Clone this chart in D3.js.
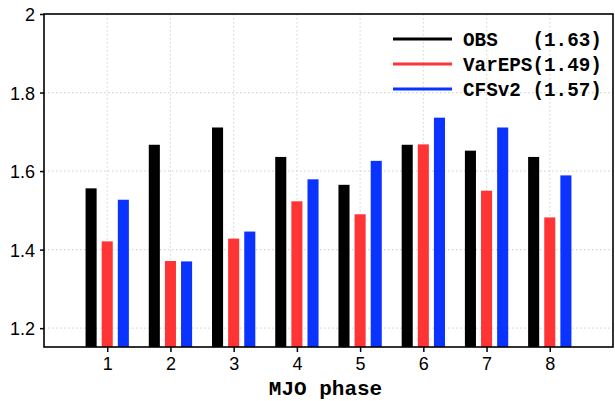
<!DOCTYPE html>
<html>
<head>
<meta charset="utf-8">
<script src="https://cdn.jsdelivr.net/npm/d3@7"></script>
<style>
  body { margin: 0; background: #fff; }
  svg { display: block; }
</style>
</head>
<body>
<svg id="chart" width="615" height="401"></svg>
<script>
// MJO phase vs. value, three sources
const phases = [1, 2, 3, 4, 5, 6, 7, 8];
const obs    = [1.556, 1.667, 1.711, 1.636, 1.565, 1.667, 1.652, 1.636];
const varEPS = [1.421, 1.371, 1.428, 1.523, 1.490, 1.668, 1.550, 1.482];
const cfsv2  = [1.527, 1.370, 1.446, 1.579, 1.626, 1.736, 1.711, 1.589];
const seriesNames = ["OBS   (1.63)", "VarEPS(1.49)", "CFSv2 (1.57)"];
const seriesColors = ["#000000", "#ff3535", "#0a33ff"];
const yTicks = [1.2, 1.4, 1.6, 1.8, 2];

const series = [obs, varEPS, cfsv2];
const margin = {top: 14, right: 2, bottom: 54, left: 44};
const svg = d3.select("#chart");
const width = +svg.attr("width") - margin.left - margin.right;
const height = +svg.attr("height") - margin.top - margin.bottom;
const mono = "'Liberation Mono', 'Courier New', monospace";

const g = svg.append("g")
  .attr("transform", "translate(" + margin.left + "," + margin.top + ")");

const x = d3.scaleLinear().domain([0, 9]).range([0, width]);
const y = d3.scaleLinear().domain([1.152, 2]).range([height, 0]);

// dotted grid
g.append("g").selectAll("line.hgrid")
  .data(yTicks.filter(d => d < 2))
  .enter().append("line")
  .attr("x1", 0).attr("x2", width)
  .attr("y1", d => y(d)).attr("y2", d => y(d))
  .attr("stroke", "#d8d8d8").attr("stroke-width", 1.2)
  .attr("stroke-dasharray", "1.5,2.5");

g.append("g").selectAll("line.vgrid")
  .data(phases)
  .enter().append("line")
  .attr("x1", d => x(d)).attr("x2", d => x(d))
  .attr("y1", 0).attr("y2", height)
  .attr("stroke", "#d8d8d8").attr("stroke-width", 1.2)
  .attr("stroke-dasharray", "1.5,2.5");

// bars
const offset = 0.255, barW = 0.175;
series.forEach((vals, si) => {
  g.append("g").selectAll("rect")
    .data(vals)
    .enter().append("rect")
    .attr("x", (d, i) => x(phases[i] + (si - 1) * offset - barW / 2))
    .attr("width", x(barW) - x(0))
    .attr("y", d => y(d))
    .attr("height", d => height - y(d))
    .attr("fill", seriesColors[si]);
});

// axes
const yAxis = d3.axisLeft(y).tickValues(yTicks).tickSize(4)
  .tickFormat(d => d === 2 ? "2" : d3.format(".1f")(d));
const yg = g.append("g").call(yAxis);
yg.select(".domain").remove();
yg.selectAll("line").attr("stroke", "#000").attr("stroke-width", 1.5);
yg.selectAll("text")
  .attr("x", -9).attr("dy", "0.36em")
  .style("font-family", "'Liberation Sans', Arial, sans-serif")
  .style("font-size", "18px").attr("fill", "#000");

const xAxis = d3.axisBottom(x).tickValues(phases).tickSize(5).tickFormat(d3.format("d"));
const xg = g.append("g").attr("transform", "translate(0," + height + ")").call(xAxis);
xg.select(".domain").remove();
xg.selectAll("line").attr("stroke", "#000").attr("stroke-width", 1.5);
xg.selectAll("text")
  .attr("y", 10).attr("dy", "0.71em")
  .style("font-family", "'Liberation Sans', Arial, sans-serif")
  .style("font-size", "18px").attr("fill", "#000");

// frame
g.append("rect")
  .attr("width", width).attr("height", height)
  .attr("fill", "none").attr("stroke", "#000").attr("stroke-width", 1.6);

// x title
svg.append("text")
  .attr("x", 325.5).attr("y", 395)
  .attr("text-anchor", "middle")
  .style("font-family", mono)
  .style("font-weight", "bold").style("font-size", "21px")
  .style("white-space", "pre")
  .text("MJO phase");

// legend
const legend = svg.append("g").attr("transform", "translate(393,39)");
const items = legend.selectAll("g").data(seriesNames).enter().append("g")
  .attr("transform", (d, i) => "translate(0," + i * 25 + ")");
items.append("line")
  .attr("x1", 0).attr("x2", 59).attr("y1", 0).attr("y2", 0)
  .attr("stroke", (d, i) => seriesColors[i]).attr("stroke-width", 3);
items.append("text")
  .attr("x", 70).attr("y", 6.5)
  .style("font-family", mono)
  .style("font-weight", "bold").style("font-size", "19.3px")
  .style("white-space", "pre")
  .text(d => d);
</script>
</body>
</html>
